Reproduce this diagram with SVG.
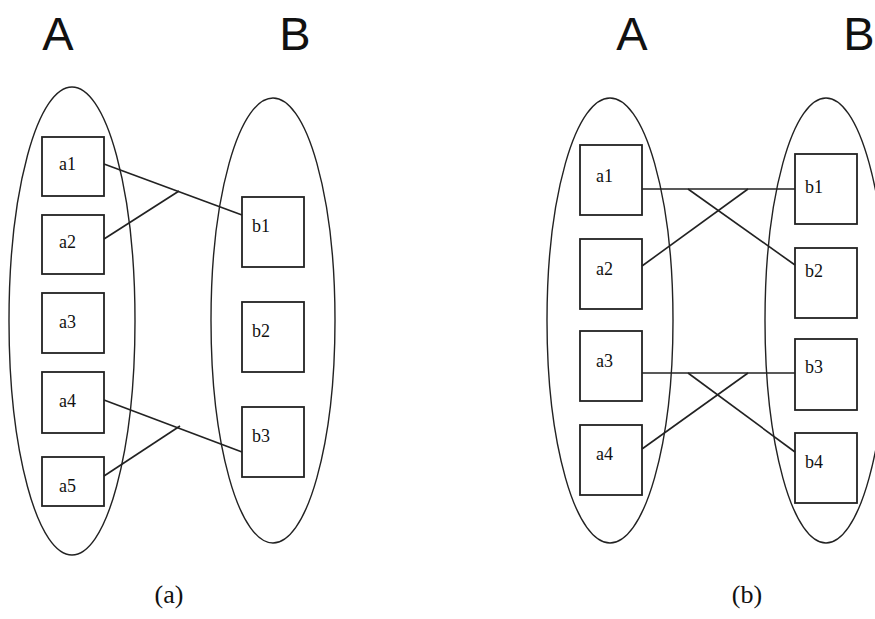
<svg xmlns="http://www.w3.org/2000/svg" width="875" height="619" viewBox="0 0 875 619">
  <style>
    .set { fill: none; stroke: #222; stroke-width: 1.4; }
    .box { fill: none; stroke: #222; stroke-width: 1.8; }
    .edge { fill: none; stroke: #222; stroke-width: 1.6; }
    .lbl { font-family: "Liberation Serif", serif; font-size: 18px; fill: #111; }
    .head { font-family: "Liberation Sans", sans-serif; font-size: 47px; fill: #111; text-anchor: middle; }
    .cap { font-family: "Liberation Serif", serif; font-size: 26px; fill: #111; text-anchor: middle; }
  </style>
  <rect width="875" height="619" fill="#fff"/>

  <!-- (a) -->
  <g id="a-sets">
    <text class="head" x="58" y="50">A</text>
    <text class="head" x="295" y="50">B</text>
    <ellipse class="set" cx="72" cy="321" rx="63" ry="234"/>
    <ellipse class="set" cx="273" cy="320.5" rx="62" ry="222.5"/>
  </g>
  <g id="a-edges">
    <line class="edge" x1="104" y1="164" x2="242" y2="215"/>
    <line class="edge" x1="104" y1="239" x2="179" y2="191"/>
    <line class="edge" x1="104" y1="400" x2="242" y2="452"/>
    <line class="edge" x1="104" y1="476" x2="180" y2="426"/>
  </g>
  <g id="a-a1"><rect class="box" x="42" y="137" width="62" height="59"/><text class="lbl" x="59" y="170">a1</text></g>
  <g id="a-a2"><rect class="box" x="42" y="215" width="62" height="59"/><text class="lbl" x="59" y="248">a2</text></g>
  <g id="a-a3"><rect class="box" x="42" y="293" width="62" height="60"/><text class="lbl" x="59" y="328">a3</text></g>
  <g id="a-a4"><rect class="box" x="42" y="372" width="62" height="61"/><text class="lbl" x="59" y="407">a4</text></g>
  <g id="a-a5"><rect class="box" x="42" y="457" width="62" height="49"/><text class="lbl" x="59" y="492">a5</text></g>
  <g id="a-b1"><rect class="box" x="242" y="197" width="62" height="70"/><text class="lbl" x="252" y="232">b1</text></g>
  <g id="a-b2"><rect class="box" x="242" y="302" width="62" height="70"/><text class="lbl" x="252" y="337">b2</text></g>
  <g id="a-b3"><rect class="box" x="242" y="407" width="62" height="70"/><text class="lbl" x="252" y="442">b3</text></g>
  <text class="cap" x="169" y="603">(a)</text>

  <!-- (b) -->
  <g id="b-sets">
    <text class="head" x="632" y="50">A</text>
    <text class="head" x="859" y="50">B</text>
    <ellipse class="set" cx="610" cy="320.5" rx="63" ry="222.5"/>
    <ellipse class="set" cx="826" cy="320.5" rx="61" ry="222.5"/>
  </g>
  <g id="b-edges">
    <line class="edge" x1="642" y1="189" x2="795" y2="189"/>
    <line class="edge" x1="642" y1="266" x2="748" y2="189"/>
    <line class="edge" x1="688" y1="189" x2="795" y2="265"/>
    <line class="edge" x1="642" y1="373" x2="795" y2="373"/>
    <line class="edge" x1="642" y1="449" x2="748" y2="373"/>
    <line class="edge" x1="688" y1="373" x2="795" y2="452"/>
  </g>
  <g id="b-a1"><rect class="box" x="580" y="145" width="62" height="70"/><text class="lbl" x="596" y="182">a1</text></g>
  <g id="b-a2"><rect class="box" x="580" y="239" width="62" height="70"/><text class="lbl" x="596" y="275">a2</text></g>
  <g id="b-a3"><rect class="box" x="580" y="331" width="62" height="70"/><text class="lbl" x="596" y="367">a3</text></g>
  <g id="b-a4"><rect class="box" x="580" y="425" width="62" height="70"/><text class="lbl" x="596" y="460">a4</text></g>
  <g id="b-b1"><rect class="box" x="795" y="154" width="62" height="70"/><text class="lbl" x="805" y="193">b1</text></g>
  <g id="b-b2"><rect class="box" x="795" y="248" width="62" height="70"/><text class="lbl" x="805" y="277">b2</text></g>
  <g id="b-b3"><rect class="box" x="795" y="339" width="62" height="71"/><text class="lbl" x="805" y="373">b3</text></g>
  <g id="b-b4"><rect class="box" x="795" y="433" width="62" height="70"/><text class="lbl" x="805" y="468">b4</text></g>
  <text class="cap" x="747" y="603">(b)</text>
</svg>
